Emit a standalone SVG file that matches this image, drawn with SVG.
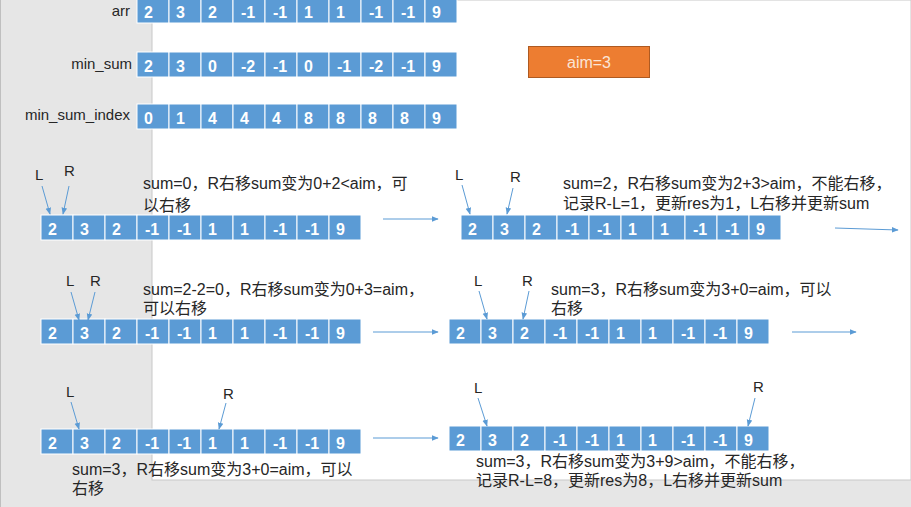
<svg xmlns="http://www.w3.org/2000/svg" width="911" height="507" viewBox="0 0 911 507">
<defs>
<style>
.bg{fill:#E6E6E6}
.cell{fill:#5B9BD5;stroke:#FFFFFF;stroke-width:1}
.num{font-family:"Liberation Sans","Noto Sans CJK SC",sans-serif;font-size:16px;font-weight:bold;fill:#FFFFFF}
.lbl{font-family:"Liberation Sans","Noto Sans CJK SC",sans-serif;font-size:15px;fill:#262626}
.txt{font-family:"Liberation Sans","Noto Sans CJK SC",sans-serif;font-size:16px;fill:#262626}
.ptr{font-family:"Liberation Sans","Noto Sans CJK SC",sans-serif;font-size:15px;fill:#262626}
.con{stroke:#5B9BD5;stroke-width:1;fill:none;marker-end:url(#ah)}
</style>
<marker id="ah" viewBox="0 0 10 10" refX="9" refY="5" markerWidth="7" markerHeight="7" orient="auto" markerUnits="userSpaceOnUse">
<path d="M0,1 L10,5 L0,9 Z" fill="#5B9BD5"/>
</marker>
<g id="cells">
<rect class="cell" x="0" y="0" width="32" height="25"/>
<rect class="cell" x="32" y="0" width="32" height="25"/>
<rect class="cell" x="64" y="0" width="32" height="25"/>
<rect class="cell" x="96" y="0" width="32" height="25"/>
<rect class="cell" x="128" y="0" width="32" height="25"/>
<rect class="cell" x="160" y="0" width="32" height="25"/>
<rect class="cell" x="192" y="0" width="32" height="25"/>
<rect class="cell" x="224" y="0" width="32" height="25"/>
<rect class="cell" x="256" y="0" width="32" height="25"/>
<rect class="cell" x="288" y="0" width="32" height="25"/>
</g>
<g id="arrvals">
<text class="num" x="7" y="20">2</text>
<text class="num" x="39" y="20">3</text>
<text class="num" x="71" y="20">2</text>
<text class="num" x="104" y="20">-1</text>
<text class="num" x="136" y="20">-1</text>
<text class="num" x="167" y="20">1</text>
<text class="num" x="199" y="20">1</text>
<text class="num" x="232" y="20">-1</text>
<text class="num" x="264" y="20">-1</text>
<text class="num" x="295" y="20">9</text>
</g>
</defs>

<!-- background -->
<rect class="bg" x="0" y="0" width="911" height="507"/>
<line x1="0.5" y1="0" x2="0.5" y2="507" stroke="#BFBFBF"/>
<rect x="152" y="0" width="759" height="480" fill="#FFFFFF" stroke="#C8C8C8" stroke-width="1"/>

<!-- top arrays -->
<g id="arr">
<text class="lbl" x="130" y="16" text-anchor="end">arr</text>
<g transform="translate(137,-2)"><use href="#cells"/><use href="#arrvals"/></g>
</g>
<g id="min_sum">
<text class="lbl" x="132" y="69" text-anchor="end">min_sum</text>
<g transform="translate(137,52)"><use href="#cells"/>
<text class="num" x="7" y="20">2</text>
<text class="num" x="39" y="20">3</text>
<text class="num" x="71" y="20">0</text>
<text class="num" x="104" y="20">-2</text>
<text class="num" x="136" y="20">-1</text>
<text class="num" x="167" y="20">0</text>
<text class="num" x="200" y="20">-1</text>
<text class="num" x="232" y="20">-2</text>
<text class="num" x="264" y="20">-1</text>
<text class="num" x="295" y="20">9</text>
</g>
</g>
<g id="min_sum_index">
<text class="lbl" x="130" y="120" text-anchor="end">min_sum_index</text>
<g transform="translate(137,104)"><use href="#cells"/>
<text class="num" x="7" y="20">0</text>
<text class="num" x="39" y="20">1</text>
<text class="num" x="71" y="20">4</text>
<text class="num" x="103" y="20">4</text>
<text class="num" x="135" y="20">4</text>
<text class="num" x="167" y="20">8</text>
<text class="num" x="199" y="20">8</text>
<text class="num" x="231" y="20">8</text>
<text class="num" x="263" y="20">8</text>
<text class="num" x="295" y="20">9</text>
</g>
</g>

<g id="aim">
<rect x="528.5" y="46.5" width="121" height="31" fill="#ED7D31" stroke="#AE5A21" stroke-width="1"/>
<text x="589" y="68" text-anchor="middle" font-family="'Liberation Sans','Noto Sans CJK SC',sans-serif" font-size="16" fill="#FBE5D6">aim=3</text>
</g>

<!-- step 1 -->
<g id="step1">
<g transform="translate(41,215)"><use href="#cells"/><use href="#arrvals"/></g>
<text class="ptr" x="35" y="180">L</text>
<text class="ptr" x="64" y="176">R</text>
<text class="txt" x="143" y="189">sum=0，R右移sum变为0+2&lt;aim，可</text>
<text class="txt" x="143" y="211">以右移</text>
</g>
<g id="step2">
<g transform="translate(461,215)"><use href="#cells"/><use href="#arrvals"/></g>
<text class="ptr" x="455" y="180">L</text>
<text class="ptr" x="510" y="182">R</text>
<text class="txt" x="563" y="189">sum=2，R右移sum变为2+3&gt;aim，不能右移，</text>
<text class="txt" x="563" y="209">记录R-L=1，更新res为1，L右移并更新sum</text>
</g>
<g id="step3">
<g transform="translate(41,319)"><use href="#cells"/><use href="#arrvals"/></g>
<text class="ptr" x="66" y="286">L</text>
<text class="ptr" x="90" y="286">R</text>
<text class="txt" x="143" y="295">sum=2-2=0，R右移sum变为0+3=aim，</text>
<text class="txt" x="143" y="314">可以右移</text>
</g>
<g id="step4">
<g transform="translate(449,319)"><use href="#cells"/><use href="#arrvals"/></g>
<text class="ptr" x="474" y="286">L</text>
<text class="ptr" x="522" y="286">R</text>
<text class="txt" x="551" y="295">sum=3，R右移sum变为3+0=aim，可以</text>
<text class="txt" x="551" y="314">右移</text>
</g>
<g id="step5">
<g transform="translate(41,429)"><use href="#cells"/><use href="#arrvals"/></g>
<text class="ptr" x="66" y="397">L</text>
<text class="ptr" x="223" y="399">R</text>
<text class="txt" x="72" y="475">sum=3，R右移sum变为3+0=aim，可以</text>
<text class="txt" x="72" y="494">右移</text>
</g>
<g id="step6">
<g transform="translate(449,426)"><use href="#cells"/><use href="#arrvals"/></g>
<text class="ptr" x="474" y="393">L</text>
<text class="ptr" x="753" y="392">R</text>
<text class="txt" x="476" y="467">sum=3，R右移sum变为3+9&gt;aim，不能右移，</text>
<text class="txt" x="476" y="486">记录R-L=8，更新res为8，L右移并更新sum</text>
</g>

<!-- connectors -->
<g id="connectors">
<line class="con" x1="42" y1="186" x2="50" y2="214"/>
<line class="con" x1="69" y1="186" x2="63" y2="214"/>
<line class="con" x1="462" y1="185" x2="470" y2="214"/>
<line class="con" x1="513" y1="188" x2="507" y2="214"/>
<line class="con" x1="71" y1="292" x2="79" y2="320"/>
<line class="con" x1="95" y1="292" x2="88" y2="320"/>
<line class="con" x1="479" y1="291" x2="487" y2="319"/>
<line class="con" x1="529" y1="291" x2="523" y2="319"/>
<line class="con" x1="71" y1="402" x2="79" y2="429"/>
<line class="con" x1="226" y1="403" x2="219" y2="429"/>
<line class="con" x1="478" y1="398" x2="487" y2="426"/>
<line class="con" x1="755" y1="398" x2="748" y2="426"/>
<line class="con" x1="383" y1="219" x2="438" y2="219"/>
<line class="con" x1="835" y1="228" x2="898" y2="230"/>
<line class="con" x1="373" y1="332" x2="438" y2="332"/>
<line class="con" x1="792" y1="332" x2="856" y2="332"/>
<line class="con" x1="373" y1="438" x2="438" y2="438"/>
</g>
</svg>
